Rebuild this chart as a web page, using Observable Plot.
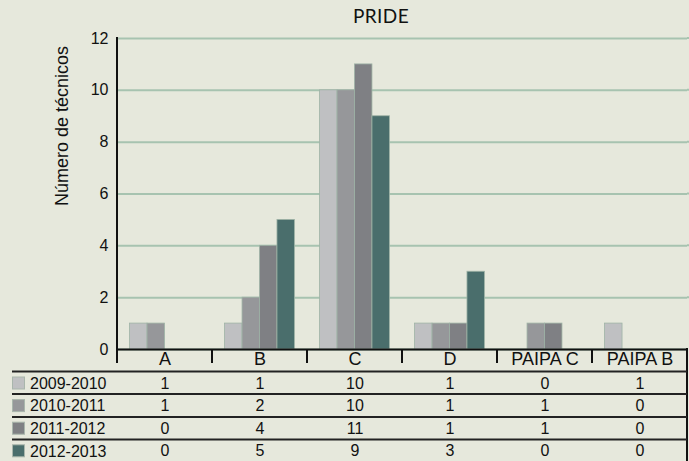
<!DOCTYPE html>
<html>
<head>
<meta charset="utf-8">
<script src="https://cdn.jsdelivr.net/npm/d3@7"></script>
<script src="https://cdn.jsdelivr.net/npm/@observablehq/plot@0.6"></script>
<style>
  html, body { margin: 0; padding: 0; background: #e6e8dc; }
  #chart { width: 689px; height: 461px; position: relative; }
  svg { font-family: "Liberation Sans", Arial, sans-serif; }
</style>
</head>
<body>
<div id="chart"></div>
<script>
const categories = ["A", "B", "C", "D", "PAIPA C", "PAIPA B"];
const series = ["2009-2010", "2010-2011", "2011-2012", "2012-2013"];
const v2009_2010 = [1, 1, 10, 1, 0, 1];
const v2010_2011 = [1, 2, 10, 1, 1, 0];
const v2011_2012 = [0, 4, 11, 1, 1, 0];
const v2012_2013 = [0, 5, 9, 3, 0, 0];
const yTicks = [0, 2, 4, 6, 8, 10, 12];
const colors = ["#bfc0c2", "#96979a", "#7f8084", "#4a6e6c"];
const title = "PRIDE";
const yLabel = "Número de técnicos";

const valuesBySeries = [v2009_2010, v2010_2011, v2011_2012, v2012_2013];
const data = [];
series.forEach((s, si) => categories.forEach((c, ci) => data.push({cat: c, series: s, value: valuesBySeries[si][ci]})));

const W = 689, H = 461;
const mL = 117, mR = 2, mT = 38, mB = 112;
const rowStep = 22.6;

const plot = Plot.plot({
  width: W, height: H,
  marginLeft: mL, marginRight: mR, marginTop: mT, marginBottom: mB,
  style: {background: "transparent", fontFamily: "Liberation Sans, Arial, sans-serif", color: "#111"},
  fx: {domain: categories, padding: 0, round: false},
  x: {domain: series, paddingInner: 0, paddingOuter: 0.72, round: false, axis: null},
  y: {domain: [0, 12]},
  color: {domain: series, range: colors},
  marks: [
    Plot.gridY(yTicks, {stroke: "#a7c3b0", strokeOpacity: 1, strokeWidth: 2}),
    Plot.barY(data.filter(d => d.value > 0), {fx: "cat", x: "series", y: "value", fill: "series", stroke: "#9fb3a6", strokeWidth: 0.8}),
    Plot.ruleY([0], {stroke: "#111", strokeWidth: 2}),
    Plot.axisY(yTicks, {tickSize: 0, tickPadding: 9, fontSize: 16, label: null}),
    Plot.axisFx({anchor: "bottom", tickSize: 0, tickPadding: 3, fontSize: 18, label: null}),
    ...series.map((s, si) => Plot.text(categories, {
      fx: d => d,
      text: (d, i) => String(valuesBySeries[si][i]),
      frameAnchor: "bottom",
      lineAnchor: "middle",
      dy: 34 + si * rowStep,
      fontSize: 16,
      fill: "#111"
    }))
  ]
});

document.getElementById("chart").appendChild(plot);
const svg = d3.select(plot);

const fx = plot.scale("fx");
const x0 = fx.range[0], x1 = fx.range[1];
const step = (x1 - x0) / categories.length;
const y0 = H - mB;

// extend gridlines to the right edge
yTicks.slice(1).forEach(t => {
  const yy = mT + (y0 - mT) * (1 - t / 12);
  svg.append("line").attr("x1", x1).attr("x2", W).attr("y1", yy).attr("y2", yy)
    .attr("stroke", "#a7c3b0").attr("stroke-width", 2);
});
// left axis line
svg.append("line").attr("x1", mL).attr("x2", mL).attr("y1", mT - 1).attr("y2", y0 + 14)
  .attr("stroke", "#111").attr("stroke-width", 2);
// category separator ticks
for (let i = 1; i < categories.length; i++) {
  const xx = x0 + i * step;
  svg.append("line").attr("x1", xx).attr("x2", xx).attr("y1", y0).attr("y2", y0 + 14)
    .attr("stroke", "#111").attr("stroke-width", 2);
}
// right border of table
svg.append("line").attr("x1", x1).attr("x2", x1).attr("y1", y0 - 1).attr("y2", H)
  .attr("stroke", "#111").attr("stroke-width", 2);
// table row lines
const rowLines = [371.5, 394, 417, 439.5];
rowLines.forEach(yy => svg.append("line").attr("x1", 12).attr("x2", x1).attr("y1", yy).attr("y2", yy)
  .attr("stroke", "#222").attr("stroke-width", 2));
// legend swatches + labels
series.forEach((s, si) => {
  const cy = y0 + 34 + si * rowStep;
  svg.append("rect").attr("x", 12.5).attr("y", cy - 6).attr("width", 12).attr("height", 12)
    .attr("fill", colors[si]).attr("stroke", "#a9b6ac").attr("stroke-width", 1);
  svg.append("text").attr("x", 30).attr("y", cy).attr("dy", "0.36em").attr("text-anchor", "start")
    .attr("font-size", 16).attr("fill", "#111").text(s);
});
// title
svg.append("text").attr("x", 381).attr("y", 16.5).attr("dy", "0.36em").attr("text-anchor", "middle")
  .attr("font-family", "Lato, 'Open Sans', sans-serif").attr("font-size", 19).attr("letter-spacing", 0.4)
  .attr("fill", "#111").text(title);
// y label
svg.append("text").attr("transform", "translate(62,126) rotate(-90)").attr("text-anchor", "middle")
  .attr("dy", "0.36em").attr("font-size", 18).attr("fill", "#111").text(yLabel);
</script>
</body>
</html>
